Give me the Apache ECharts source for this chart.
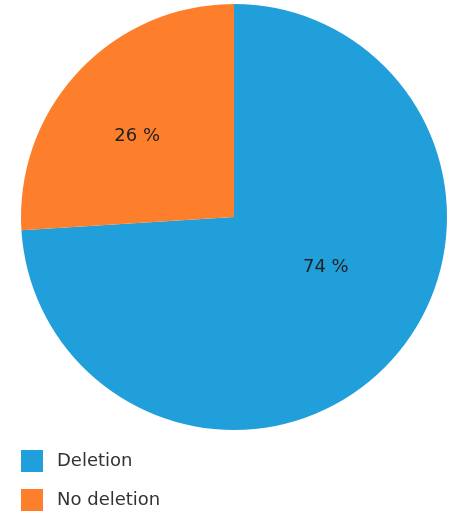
<!DOCTYPE html>
<html>
<head>
<meta charset="utf-8">
<script src="https://cdn.jsdelivr.net/npm/echarts@6/dist/echarts.min.js"></script>
<style>
  html, body { margin: 0; padding: 0; background: #fff; }
  #chart { width: 451px; height: 515px; }
</style>
</head>
<body>
<div id="chart"></div>
<script>
// data
var categories = ['Deletion', 'No deletion'];
var values = [74, 26];
var colors = ['#219fdb', '#fe7f2b'];

// label nudges so the % text sits where the original has it
var labelShift = [[12, -25], [-17, -6]];

var myChart = echarts.init(document.getElementById('chart'));

var pieData = categories.map(function (name, i) {
    return { name: name, value: values[i], itemStyle: { color: colors[i] } };
});

myChart.setOption({
    backgroundColor: '#fff',
    animation: false,
    legend: {
        orient: 'vertical',
        left: 16,
        top: 445,
        height: 70,
        itemWidth: 22,
        itemHeight: 22,
        itemGap: 17,
        icon: 'rect',
        data: categories,
        textStyle: {
            fontFamily: 'DejaVu Sans',
            fontSize: 18,
            color: '#333',
            padding: [0, 0, 0, 9]
        }
    },
    series: [{
        type: 'pie',
        center: [234, 217],
        radius: [0, 213],
        startAngle: 90,
        clockwise: true,
        silent: true,
        label: {
            show: true,
            position: 'inside',
            formatter: '{c} %',
            fontFamily: 'DejaVu Sans',
            fontSize: 18,
            color: '#222'
        },
        labelLine: { show: false },
        labelLayout: function (params) {
            var s = labelShift[params.dataIndex];
            return { dx: s[0], dy: s[1] };
        },
        itemStyle: { borderWidth: 0 },
        data: pieData
    }]
});
</script>
</body>
</html>
